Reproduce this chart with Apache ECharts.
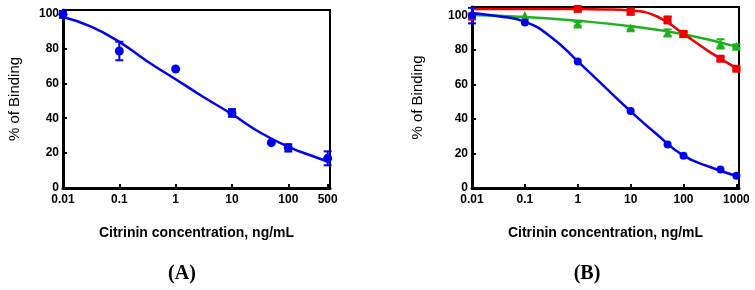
<!DOCTYPE html>
<html>
<head>
<meta charset="utf-8">
<script src="https://cdn.jsdelivr.net/npm/echarts@6/dist/echarts.min.js"></script>
<style>
  html, body { margin: 0; padding: 0; background: #fff; }
  #chart { width: 755px; height: 290px; }
</style>
</head>
<body>
<div id="chart"></div>
<script>
// panel A - measured points, error (+/-) and fitted curve
const concA = [0.01, 0.1, 1, 10, 50, 100, 500];
const bindA = [99.5, 78.5, 68.2, 43, 26, 23, 17];
const errA = [2, 5.3, 0, 2.2, 0, 2.1, 4];
const fitConcA = [0.01, 0.0316, 0.1, 0.316, 1, 3.16, 10, 31.6, 100, 316, 500];
const fitA = [98, 92.5, 83.7, 72.5, 62.3, 52, 42.3, 31.8, 23.6, 17.5, 15.2];

// panel B - three antibodies
const concB = [0.01, 0.1, 1, 10, 50, 100, 500, 1000];
const blueB = [100, 96, 73.4, 44.7, 25.3, 18.7, 10.8, 7.1];
const blueErr = [4.5, 0, 0, 0, 0, 0, 0, 0];
const redB = [99.5, null, 103.9, 102.3, 97.5, 89.4, 75, 69.2];
const redErr = [1.5, 0, 1, 1.7, 2, 1, 1, 0.8];
const greenB = [100, 100, 95.2, 92.9, 90, 89.5, 83.6, 82.3];
const greenErr = [0, 0, 1, 1, 2, 1, 2.7, 1];

const fitConcBlue = [0.01, 0.0316, 0.1, 0.316, 1, 3.16, 10, 31.6, 100, 316, 1000];
const fitBlue = [101.5, 99.6, 96.5, 87.5, 73.5, 59, 44.5, 31, 18.8, 12.2, 7];
const fitConcRed = [0.01, 0.1, 1, 3.16, 10, 31.6, 100, 316, 1000];
const fitRed = [103.8, 103.8, 103.8, 103.6, 102.9, 99.5, 89.4, 78.8, 69.5];
const fitConcGreen = [0.01, 0.1, 1, 10, 100, 1000];
const fitGreen = [100.3, 99.2, 97, 93.8, 89.2, 82];

const tickA = [0.01, 0.1, 1, 10, 100, 500];
const tickB = [0.01, 0.1, 1, 10, 100, 1000];
const tickY = [0, 20, 40, 60, 80, 100];

const BLUE = '#0000f0';
const RED = '#f00000';
const GREEN = '#1fb01f';

const pairs = (xs, ys) => xs.map((x, i) => [x, ys[i]]).filter(d => d[1] != null);
const bars = (xs, ys, es) => xs.map((x, i) => [x, ys[i] - es[i], ys[i] + es[i]])
  .filter((d, i) => es[i] > 0 && ys[i] != null);

function errorBar(params, api) {
  const x = api.value(0);
  const lo = api.coord([x, api.value(1)]);
  const hi = api.coord([x, api.value(2)]);
  const w = 4;
  const style = { stroke: api.visual('color'), lineWidth: 2 };
  return {
    type: 'group',
    children: [
      { type: 'line', shape: { x1: hi[0], y1: hi[1], x2: lo[0], y2: lo[1] }, style },
      { type: 'line', shape: { x1: hi[0] - w, y1: hi[1], x2: hi[0] + w, y2: hi[1] }, style },
      { type: 'line', shape: { x1: lo[0] - w, y1: lo[1], x2: lo[0] + w, y2: lo[1] }, style }
    ]
  };
}

const labelFont = { color: '#000', fontFamily: 'Liberation Sans', fontWeight: 'bold', fontSize: 12 };

function xAxis(idx, max, ticks) {
  return {
    type: 'log', gridIndex: idx, min: 0.01, max: max, logBase: 10,
    name: 'Citrinin concentration, ng/mL', nameLocation: 'middle', nameGap: 38,
    nameTextStyle: { color: '#000', fontFamily: 'Liberation Sans', fontWeight: 'bold', fontSize: 14 },
    axisLine: { lineStyle: { color: '#000', width: 3 } },
    axisTick: { inside: true, length: 4, lineStyle: { color: '#000', width: 2 }, customValues: ticks },
    axisLabel: Object.assign({ margin: 6, customValues: ticks, formatter: v => String(+v.toPrecision(6)) }, labelFont),
    splitLine: { show: false }
  };
}

function yAxis(idx, max, gap) {
  return {
    type: 'value', gridIndex: idx, min: 0, max: max,
    name: '% of Binding', nameLocation: 'middle', nameGap: gap,
    nameTextStyle: { color: '#000', fontFamily: 'Liberation Sans', fontSize: 15 },
    axisLine: { lineStyle: { color: '#000', width: 3 } },
    axisTick: { inside: true, length: 4, lineStyle: { color: '#000', width: 2 }, customValues: tickY },
    axisLabel: Object.assign({ margin: 4, customValues: tickY }, labelFont),
    splitLine: { show: false }
  };
}

function curve(xi, xs, ys, color) {
  return {
    type: 'line', xAxisIndex: xi, yAxisIndex: xi, data: pairs(xs, ys),
    smooth: 0.5, showSymbol: false, silent: true, z: 2,
    lineStyle: { color: color, width: 2.5 }
  };
}
function points(xi, xs, ys, color, symbol, size) {
  return {
    type: 'scatter', xAxisIndex: xi, yAxisIndex: xi, data: pairs(xs, ys),
    symbol: symbol, symbolSize: size, itemStyle: { color: color, opacity: 1 }, z: 3
  };
}
function errs(xi, xs, ys, es, color) {
  return {
    type: 'custom', xAxisIndex: xi, yAxisIndex: xi, data: bars(xs, ys, es),
    renderItem: errorBar, encode: { x: 0, y: [1, 2] }, clip: false,
    itemStyle: { color: color }, z: 3
  };
}

const chart = echarts.init(document.getElementById('chart'), null, { renderer: 'canvas' });
chart.setOption({
  animation: false,
  backgroundColor: '#fff',
  title: [
    { text: '(A)', left: 182, top: 264, textAlign: 'center', padding: 0,
      textStyle: { fontFamily: 'Liberation Serif', fontWeight: 'bold', fontSize: 20, color: '#000' } },
    { text: '(B)', left: 587, top: 264, textAlign: 'center', padding: 0,
      textStyle: { fontFamily: 'Liberation Serif', fontWeight: 'bold', fontSize: 20, color: '#000' } }
  ],
  grid: [
    { left: 63, top: 10, width: 267, height: 178, show: true, borderColor: '#000', borderWidth: 2,
      backgroundColor: 'transparent', outerBoundsMode: 'none' },
    { left: 472, top: 7, width: 267, height: 181, show: true, borderColor: '#000', borderWidth: 2,
      backgroundColor: 'transparent', outerBoundsMode: 'none' }
  ],
  xAxis: [xAxis(0, 550, tickA), xAxis(1, 1120, tickB)],
  yAxis: [yAxis(0, 102, 41), yAxis(1, 105, 47)],
  series: [
    curve(0, fitConcA, fitA, BLUE),
    errs(0, concA, bindA, errA, BLUE),
    points(0, concA, bindA, BLUE, 'circle', 9),

    curve(1, fitConcGreen, fitGreen, GREEN),
    curve(1, fitConcRed, fitRed, RED),
    curve(1, fitConcBlue, fitBlue, BLUE),
    errs(1, concB, greenB, greenErr, GREEN),
    errs(1, concB, redB, redErr, RED),
    errs(1, concB, blueB, blueErr, BLUE),
    points(1, concB, greenB, GREEN, 'triangle', 9),
    points(1, concB, redB, RED, 'rect', 8),
    points(1, concB, blueB, BLUE, 'circle', 8)
  ]
});
</script>
</body>
</html>
